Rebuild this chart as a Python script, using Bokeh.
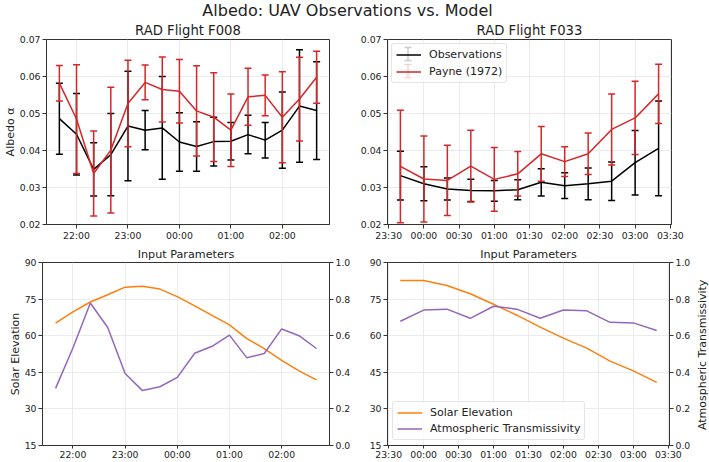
import math
from datetime import datetime, timedelta

from bokeh.plotting import figure
from bokeh.layouts import column, row
from bokeh.models import (Range1d, LinearAxis, FixedTicker, DatetimeTickFormatter,
                          PrintfTickFormatter, Legend, LegendItem, Label, ColumnDataSource)
from bokeh.embed import file_html
from bokeh.resources import INLINE

FONT = "DejaVu Sans"
TXT = "#222222"
SPINE = "#333333"
GRID = "#e6e6e6"
C_OBS = "#000000"
C_PAY = "#d62728"
C_SOL = "#ff7f0e"
C_TRA = "#9467bd"

# ---------------- data ----------------
suptitle = "Albedo: UAV Observations vs. Model"

# Flight F008
times_f008 = ["21:40", "22:00", "22:20", "22:40", "23:00", "23:20", "23:40", "00:00",
              "00:20", "00:40", "01:00", "01:20", "01:40", "02:00", "02:20", "02:40"]
obs_f008 = [0.0486, 0.0444, 0.0349, 0.0389, 0.0466, 0.0455, 0.0461, 0.0423,
            0.0411, 0.0424, 0.0425, 0.0443, 0.0428, 0.0455, 0.0520, 0.0508]
obs_err_f008 = [0.0096, 0.0110, 0.0072, 0.0111, 0.0148, 0.0053, 0.0139, 0.0079,
                0.0067, 0.0066, 0.0051, 0.0052, 0.0048, 0.0103, 0.0152, 0.0132]
payne_f008 = [0.0582, 0.0485, 0.0338, 0.0401, 0.0527, 0.0584, 0.0565, 0.0560,
              0.0507, 0.0490, 0.0455, 0.0545, 0.0549, 0.0490, 0.0539, 0.0598]
payne_err_f008 = [0.0048, 0.0147, 0.0115, 0.0170, 0.0117, 0.0047, 0.0088, 0.0086,
                  0.0122, 0.0120, 0.0098, 0.0077, 0.0055, 0.0123, 0.0113, 0.0070]
solar_f008 = [65.2, 69.8, 73.8, 76.8, 79.9, 80.3, 79.1, 76.0,
              72.2, 68.3, 64.4, 58.8, 54.7, 49.9, 45.6, 41.9]
trans_f008 = [0.312, 0.533, 0.779, 0.645, 0.393, 0.300, 0.321, 0.372,
              0.504, 0.542, 0.603, 0.479, 0.503, 0.637, 0.600, 0.530]
ticks_f008 = ["22:00", "23:00", "00:00", "01:00", "02:00"]

# Flight F033
times_f033 = ["23:40", "00:00", "00:20", "00:40", "01:00", "01:20",
              "01:40", "02:00", "02:20", "02:40", "03:00", "03:20"]
obs_f033 = [0.0332, 0.0310, 0.0296, 0.0292, 0.0291, 0.0294,
            0.0314, 0.0305, 0.0310, 0.0317, 0.0367, 0.0406]
obs_err_f033 = [0.0066, 0.0046, 0.0030, 0.0030, 0.0028, 0.0027,
                0.0037, 0.0035, 0.0043, 0.0052, 0.0087, 0.0128]
payne_f033 = [0.0357, 0.0323, 0.0319, 0.0358, 0.0322, 0.0337,
              0.0391, 0.0370, 0.0391, 0.0457, 0.0488, 0.0553]
payne_err_f033 = [0.0152, 0.0116, 0.0095, 0.0097, 0.0086, 0.0060,
                  0.0074, 0.0040, 0.0056, 0.0096, 0.0099, 0.0080]
solar_f033 = [82.6, 82.6, 80.6, 77.2, 72.9, 68.4, 63.5, 59.0, 54.9, 49.6, 45.6, 40.9]
trans_f033 = [0.679, 0.740, 0.745, 0.695, 0.761, 0.745,
              0.695, 0.740, 0.736, 0.673, 0.670, 0.628]
ticks_f033 = ["23:30", "00:00", "00:30", "01:00", "01:30", "02:00",
              "02:30", "03:00", "03:30"]

albedo_ticks = [0.02, 0.03, 0.04, 0.05, 0.06, 0.07]
solar_ticks = [15, 30, 45, 60, 75, 90]
trans_ticks = [0.0, 0.2, 0.4, 0.6, 0.8, 1.0]

# ---------------- helpers ----------------
EPOCH = datetime(1970, 1, 1)
DAY0 = datetime(2019, 7, 1)


def to_dt(labels):
    out, day, prev = [], DAY0, None
    for s in labels:
        h, m = (int(v) for v in s.split(":"))
        t = day.replace(hour=h, minute=m)
        if prev is not None and t < prev:
            day = day + timedelta(days=1)
            t = day.replace(hour=h, minute=m)
        out.append(t)
        prev = t
    return out


def ms(t):
    return (t - EPOCH).total_seconds() * 1000.0


def xrange_for(ts):
    a, b = ms(ts[0]), ms(ts[-1])
    pad = 0.05 * (b - a)
    return Range1d(a - pad, b + pad)


def style_axis(ax, label_size="11px"):
    ax.axis_line_color = SPINE
    ax.major_tick_line_color = SPINE
    ax.major_tick_out = 4
    ax.major_tick_in = 0
    ax.minor_tick_out = 0
    ax.minor_tick_in = 0
    ax.major_label_text_font = FONT
    ax.major_label_text_font_size = "9.3px"
    ax.major_label_text_color = TXT
    ax.major_label_text_line_height = 1.0
    ax.major_label_standoff = 2
    ax.axis_label_text_font = FONT
    ax.axis_label_text_font_size = label_size
    ax.axis_label_text_font_style = "normal"
    ax.axis_label_text_color = TXT
    ax.axis_label_text_line_height = 1.0
    ax.axis_label_standoff = 0


def make_fig(title, title_size, title_standoff, w, h, borders, xr, yr, tick_labels):
    l, r, t, b = borders
    p = figure(width=w, height=h, title=title, x_axis_type="datetime",
               x_range=xr, y_range=yr, toolbar_location=None, output_backend="svg",
               min_border_left=l, min_border_right=r, min_border_top=t, min_border_bottom=b)
    p.title.align = "center"
    p.title.text_font = FONT
    p.title.text_font_size = title_size
    p.title.text_font_style = "normal"
    p.title.text_color = TXT
    p.title.text_line_height = 1.0
    p.title.standoff = title_standoff
    p.outline_line_color = SPINE
    p.outline_line_width = 1
    xt = FixedTicker(ticks=[ms(t) for t in to_dt(tick_labels)])
    p.xaxis.ticker = xt
    p.xgrid.ticker = xt
    p.xaxis.formatter = DatetimeTickFormatter(
        seconds="%H:%M", minsec="%H:%M", minutes="%H:%M", hourmin="%H:%M",
        hours="%H:%M", days="%H:%M", months="%H:%M", years="%H:%M")
    for g in p.grid:
        g.grid_line_color = GRID
        g.grid_line_width = 0.8
    return p


def errorbars(p, x, y, err, color):
    lo = [v - e for v, e in zip(y, err)]
    hi = [v + e for v, e in zip(y, err)]
    src = ColumnDataSource(dict(x=x, y=y, lo=lo, hi=hi))
    p.segment(x0="x", y0="lo", x1="x", y1="hi", source=src, line_color=color, line_width=1.5)
    p.scatter(x="x", y="lo", source=src, marker="dash", size=7, line_color=color, line_width=1.5)
    p.scatter(x="x", y="hi", source=src, marker="dash", size=7, line_color=color, line_width=1.5)
    return p.line(x="x", y="y", source=src, line_color=color, line_width=1.5)


def text_strip(w, h):
    q = figure(width=w, height=h, x_range=Range1d(0, w), y_range=Range1d(0, h),
               x_axis_type=None, y_axis_type=None, toolbar_location=None,
               output_backend="svg", min_border=0)
    q.outline_line_color = None
    return q


# ---------------- layout geometry ----------------
H_SUP = 19
W_L, W_R = 357, 352
W_STRIP = 16
H_TOP, H_BOT = 224, 219
B_TL = (42, 28, 20, 19)
B_TR = (30, 38, 20, 19)
B_BL = (42, 28, 19, 17)
B_BR = (30, 38 - W_STRIP, 19, 17)

# ---------------- suptitle ----------------
p0 = text_strip(709, H_SUP)
p0.add_layout(Label(x=347, y=H_SUP - 9.5, text=suptitle, text_align="center",
                    text_baseline="middle", text_font=FONT, text_line_height=1.0,
                    text_font_size="16px", text_color=TXT))

# ---------------- top-left ----------------
t008 = to_dt(times_f008)
t033 = to_dt(times_f033)

tl = make_fig("RAD Flight F008", "13.2px", 3, W_L, H_TOP, B_TL,
              xrange_for(t008), Range1d(0.02, 0.07), ticks_f008)
errorbars(tl, t008, obs_f008, obs_err_f008, C_OBS)
errorbars(tl, t008, payne_f008, payne_err_f008, C_PAY)
tl.yaxis.ticker = FixedTicker(ticks=albedo_ticks)
tl.ygrid.ticker = FixedTicker(ticks=albedo_ticks)
tl.yaxis.formatter = PrintfTickFormatter(format="%.2f")
tl.yaxis.axis_label = "Albedo α"
for ax in tl.axis:
    style_axis(ax)
tl.xaxis.major_label_standoff = 1

# ---------------- top-right ----------------
tr = make_fig("RAD Flight F033", "13.2px", 3, W_R, H_TOP, B_TR,
              xrange_for(t033), Range1d(0.02, 0.07), ticks_f033)
r_obs = errorbars(tr, t033, obs_f033, obs_err_f033, C_OBS)
r_pay = errorbars(tr, t033, payne_f033, payne_err_f033, C_PAY)
tr.yaxis.ticker = FixedTicker(ticks=albedo_ticks)
tr.ygrid.ticker = FixedTicker(ticks=albedo_ticks)
tr.yaxis.formatter = PrintfTickFormatter(format="%.2f")
for ax in tr.axis:
    style_axis(ax)
tr.xaxis.major_label_standoff = 1

LEG_M, LEG_P, LEG_GW, LEG_H, LEG_S = 4, 4, 25, 13, 4
leg = Legend(items=[LegendItem(label="Observations", renderers=[r_obs]),
                    LegendItem(label="Payne (1972)", renderers=[r_pay])],
             location="top_left", margin=LEG_M, padding=LEG_P, spacing=LEG_S,
             glyph_width=LEG_GW, glyph_height=LEG_H, label_height=LEG_H, label_standoff=8,
             label_text_font=FONT, label_text_font_size="11px", label_text_color=TXT,
             border_line_color="#cccccc", border_line_width=1,
             background_fill_color="white", background_fill_alpha=0.8)
if "border_radius" in Legend.properties():
    leg.border_radius = 3
tr.add_layout(leg)

# error-bar icons inside the legend (vertical bar with caps)
fw = W_R - B_TR[0] - B_TR[1]
fh = H_TOP - B_TR[2] - B_TR[3]
xs, xe = tr.x_range.start, tr.x_range.end
ys, ye = tr.y_range.start, tr.y_range.end
icon_x_px = LEG_M + LEG_P + LEG_GW / 2.0
half_px = 6.5
for i, col in enumerate([C_OBS, C_PAY]):
    cy_px = LEG_M + LEG_P + i * (LEG_H + LEG_S) + LEG_H / 2.0
    ix = xs + icon_x_px / fw * (xe - xs)
    iy0 = ye - (cy_px + half_px) / fh * (ye - ys)
    iy1 = ye - (cy_px - half_px) / fh * (ye - ys)
    s = tr.segment(x0=[ix], y0=[iy0], x1=[ix], y1=[iy1], line_color=col, line_width=1.5)
    c = tr.scatter(x=[ix, ix], y=[iy0, iy1], marker="dash", size=7,
                   line_color=col, line_width=1.5)
    s.level = "overlay"
    c.level = "overlay"


# ---------------- bottom panels ----------------
def bottom(xts, solar, trans, ticks, w, borders):
    p = make_fig("Input Parameters", "11.2px", 4, w, H_BOT, borders,
                 xrange_for(xts), Range1d(15, 90), ticks)
    p.extra_y_ranges = {"trans": Range1d(0, 1)}
    p.yaxis.ticker = FixedTicker(ticks=solar_ticks)
    p.ygrid.ticker = FixedTicker(ticks=solar_ticks)
    ax_r = LinearAxis(y_range_name="trans", ticker=FixedTicker(ticks=trans_ticks),
                      formatter=PrintfTickFormatter(format="%.1f"))
    p.add_layout(ax_r, "right")
    r_sol = p.line(x=xts, y=solar, line_color=C_SOL, line_width=1.5)
    r_tra = p.line(x=xts, y=trans, line_color=C_TRA, line_width=1.5, y_range_name="trans")
    for ax in p.axis:
        style_axis(ax)
    p.xaxis.major_tick_out = 3
    p.xaxis.major_label_standoff = 0
    return p, r_sol, r_tra


bl, _, _ = bottom(t008, solar_f008, trans_f008, ticks_f008, W_L, B_BL)
bl.left[0].axis_label = "Solar Elevation"

br, rs, rt = bottom(t033, solar_f033, trans_f033, ticks_f033, W_R - W_STRIP, B_BR)
leg2 = Legend(items=[LegendItem(label="Solar Elevation", renderers=[rs]),
                     LegendItem(label="Atmospheric Transmissivity", renderers=[rt])],
              location="bottom_left", margin=5, padding=4, spacing=3,
              glyph_width=25, glyph_height=13, label_height=13, label_standoff=8,
              label_text_font=FONT, label_text_font_size="11px", label_text_color=TXT,
              border_line_color="#cccccc", border_line_width=1,
              background_fill_color="white", background_fill_alpha=0.8)
if "border_radius" in Legend.properties():
    leg2.border_radius = 3
br.add_layout(leg2)

# right-hand axis title (reads bottom-to-top), in a thin strip beside the panel
strip = text_strip(W_STRIP, H_BOT)
frame_mid_from_bottom = B_BR[3] + (H_BOT - B_BR[2] - B_BR[3]) / 2.0
strip.add_layout(Label(x=W_STRIP / 2.0 + 1, y=frame_mid_from_bottom,
                       text="Atmospheric Transmissivity", angle=math.pi / 2,
                       text_align="center", text_baseline="middle", text_line_height=1.0,
                       text_font=FONT, text_font_size="11px", text_color=TXT))

layout = column(p0, row(tl, tr), row(bl, br, strip))

open("out.html", "w").write(file_html(layout, INLINE, "Albedo"))
